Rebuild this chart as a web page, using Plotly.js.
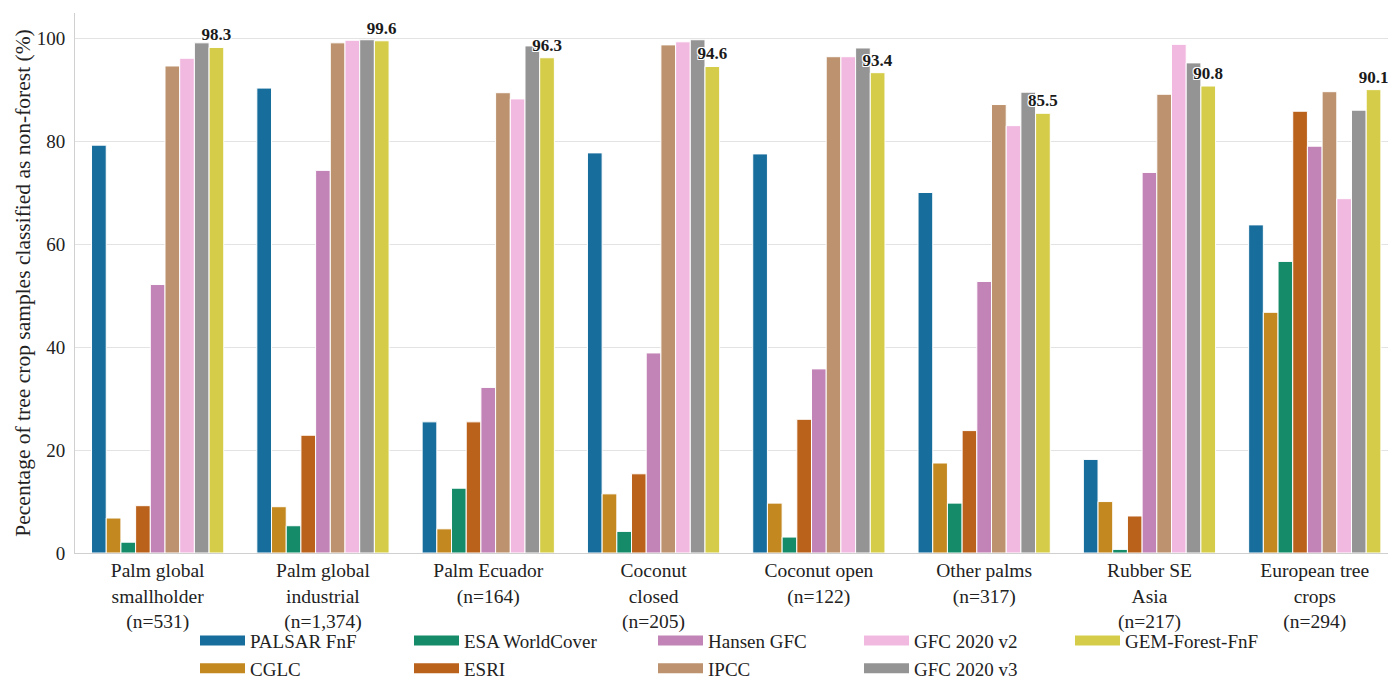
<!DOCTYPE html>
<html>
<head>
<meta charset="utf-8">
<script src="https://cdn.plot.ly/plotly-3.0.1.min.js"></script>
<style>html,body{margin:0;padding:0;background:#fff;}#chart{width:1388px;height:682px;}</style>
</head>
<body>
<div id="chart"></div>
<script>
const categories = [
  'Palm global<br>smallholder<br>(n=531)',
  'Palm global<br>industrial<br>(n=1,374)',
  'Palm Ecuador<br>(n=164)',
  'Coconut<br>closed<br>(n=205)',
  'Coconut open<br>(n=122)',
  'Other palms<br>(n=317)',
  'Rubber SE<br>Asia<br>(n=217)',
  'European tree<br>crops<br>(n=294)'
];
const seriesNames = ['PALSAR FnF','CGLC','ESA WorldCover','ESRI','Hansen GFC','IPCC','GFC 2020 v2','GFC 2020 v3','GEM-Forest-FnF'];
const palsar = [79.3, 90.4, 25.5, 77.8, 77.6, 70.1, 18.2, 63.8];
const cglc   = [6.8, 9.0, 4.7, 11.5, 9.7, 17.5, 10.0, 46.8];
const esa    = [2.1, 5.3, 12.6, 4.2, 3.1, 9.7, 0.7, 56.7];
const esri   = [9.2, 22.9, 25.5, 15.4, 26.0, 23.8, 7.2, 85.9];
const hansen = [52.2, 74.4, 32.2, 38.9, 35.8, 52.8, 74.0, 79.1];
const ipcc   = [94.7, 99.2, 89.5, 98.8, 96.5, 87.2, 89.2, 89.7];
const gfc2   = [96.2, 99.7, 88.3, 99.4, 96.5, 83.1, 98.9, 68.9];
const gfc3   = [99.2, 99.8, 98.6, 99.8, 98.2, 89.6, 95.3, 86.1];
const gem    = [98.3, 99.6, 96.3, 94.6, 93.4, 85.5, 90.8, 90.1];
const seriesValues = [palsar, cglc, esa, esri, hansen, ipcc, gfc2, gfc3, gem];
const colors = ['#176d9c','#c38820','#168b6a','#ba611b','#c283b6','#bd926e','#f2b9e0','#949494','#d5cd4a'];
// legend column for each series (legend laid out column-wise, 5 columns)
const legendIds = ['legend','legend','legend2','legend2','legend3','legend3','legend4','legend4','legend5'];

const FONT = '"Liberation Serif", "Times New Roman", Times, serif';

const barTraces = seriesNames.map((name, i) => {
  const t = {
    type: 'bar',
    name: name,
    x: categories,
    y: seriesValues[i],
    marker: {color: colors[i], line: {color: '#ffffff', width: 1}},
    legendgroup: name,
    showlegend: false,
    hoverinfo: 'x+y+name'
  };
  if (i === seriesNames.length - 1) {
    t.texttemplate = '%{y:.1f}';
    t.textposition = 'outside';
    t.constraintext = 'none';
    t.cliponaxis = false;
    t.textfont = {family: FONT, size: 17, color: '#1a1a1a', weight: 'bold',
      shadow: '1px 1px 0px #fff, -1px -1px 0px #fff, 1px -1px 0px #fff, -1px 1px 0px #fff'};
  }
  return t;
});

// legend entries: wide colour patches like the original figure
const legendTraces = seriesNames.map((name, i) => ({
  type: 'scatter', mode: 'lines', name: name,
  x: [null], y: [null],
  line: {color: colors[i], width: 13},
  legend: legendIds[i], legendgroup: name,
  showlegend: true, hoverinfo: 'skip'
}));

const legendBase = {
  orientation: 'v', yanchor: 'top', xanchor: 'left', y: -0.127,
  font: {family: FONT, size: 19, color: '#222'},
  bgcolor: 'rgba(0,0,0,0)', borderwidth: 0,
  traceorder: 'grouped', tracegroupgap: 0, itemclick: false, itemwidth: 45
};
const pw = 1388 - 75;
const legX = px => (px - 3 - 75) / pw;

const layout = {
  width: 1388, height: 682,
  margin: {l: 75, r: 0, t: 13, b: 129, autoexpand: false},
  paper_bgcolor: '#ffffff', plot_bgcolor: '#ffffff',
  font: {family: FONT, color: '#222', size: 19},
  barmode: 'group', bargap: 0.2, bargroupgap: 0,
  showlegend: true,
  xaxis: {
    type: 'category', range: [-0.5, 7.443],
    showline: true, linecolor: '#d0d0d0', linewidth: 1,
    showgrid: false, ticks: '',
    tickfont: {family: FONT, size: 19.5, color: '#222'},
    automargin: false
  },
  yaxis: {
    range: [0, 105], tickvals: [0, 20, 40, 60, 80, 100],
    showline: true, linecolor: '#d0d0d0', linewidth: 1,
    showgrid: true, gridcolor: '#e3e3e3', gridwidth: 1, zeroline: false,
    ticks: '', ticklabelstandoff: 5,
    tickfont: {family: FONT, size: 19, color: '#222'},
    title: {text: 'Pecentage of tree crop samples classified as non-forest (%)', font: {family: FONT, size: 21.5, color: '#222'}, standoff: 0},
    automargin: false
  },
  legend:  Object.assign({}, legendBase, {x: legX(198)}),
  legend2: Object.assign({}, legendBase, {x: legX(412)}),
  legend3: Object.assign({}, legendBase, {x: legX(656)}),
  legend4: Object.assign({}, legendBase, {x: legX(862)}),
  legend5: Object.assign({}, legendBase, {x: legX(1073)})
};

Plotly.newPlot('chart', barTraces.concat(legendTraces), layout, {displayModeBar: false, staticPlot: true});
</script>
</body>
</html>
